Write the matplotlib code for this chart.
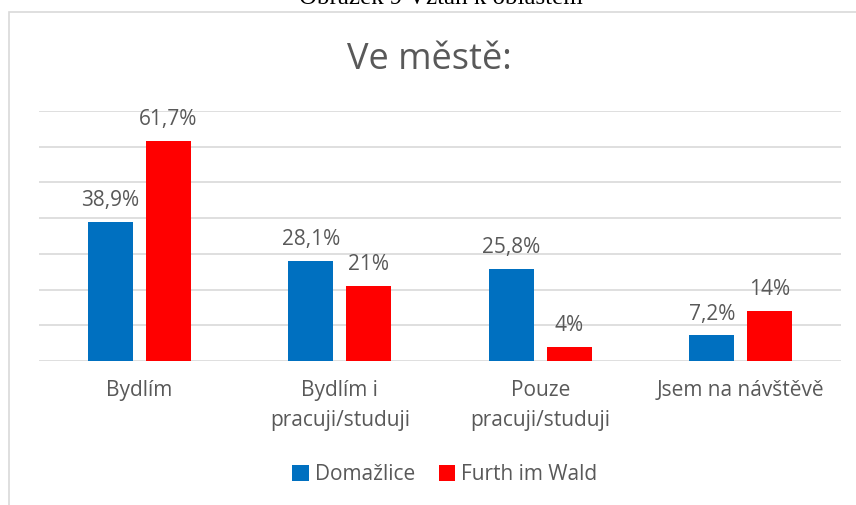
import matplotlib.pyplot as plt
import numpy as np
from matplotlib.patches import Rectangle

# data
categories = ["Bydlím", "Bydlím i\npracuji/studuji", "Pouze\npracuji/studuji", "Jsem na návštěvě"]
domazlice = [38.9, 28.1, 25.8, 7.2]
furth = [61.7, 21.0, 4.0, 14.0]
domazlice_labels = ["38,9%", "28,1%", "25,8%", "7,2%"]
furth_labels = ["61,7%", "21%", "4%", "14%"]

plt.rcParams['font.family'] = ['Open Sans', 'DejaVu Sans']
text_color = '#595959'

fig = plt.figure(figsize=(8.56, 5.05), dpi=100)
W, H = 856, 505

# chart frame (left and top edges visible)
fig.patches.append(Rectangle((9 / W, -0.1), 1.0, 1 - 12 / H + 0.1, transform=fig.transFigure,
                             fill=False, edgecolor='#d9d9d9', linewidth=1.2))

# caption from the document, cut off at the top
fig.text(441 / W, 1 - 4 / H, "Obrázek 9 Vztah k oblastem", ha='center', va='baseline',
         fontsize=18, family='Liberation Serif', color='black')

ax = fig.add_axes([39 / W, 1 - 361 / H, (841 - 39) / W, (361 - 111) / H])
x = np.arange(len(categories))
w = 0.224
off = 0.144
b1 = ax.bar(x - off, domazlice, w, color='#0070c0', label='Domažlice', zorder=3)
b2 = ax.bar(x + off, furth, w, color='#ff0000', label='Furth im Wald', zorder=3)

for bars, labs in ((b1, domazlice_labels), (b2, furth_labels)):
    for rect, lab in zip(bars, labs):
        ax.text(rect.get_x() + rect.get_width() / 2, rect.get_height() + 3.0, lab,
                ha='center', va='bottom', fontsize=15, color=text_color)

ax.set_xlim(-0.5, 3.5)
ax.set_ylim(0, 70)
ax.set_yticks(np.arange(0, 71, 10))
ax.yaxis.grid(True, color='#d9d9d9', linewidth=1.2, zorder=0)
ax.tick_params(axis='y', left=False, labelleft=False)
ax.tick_params(axis='x', bottom=False, pad=10)
ax.set_xticks(x)
ax.set_xticklabels(categories, fontsize=15, color=text_color, linespacing=1.6)
for s in ax.spines.values():
    s.set_visible(False)

fig.text(429 / W, 1 - 60 / H, "Ve městě:", ha='center', va='center', fontsize=26, color=text_color)

fig.legend(handles=[b1, b2], loc='center', bbox_to_anchor=(445 / W, 1 - 475 / H), ncol=2,
           frameon=False, fontsize=15, labelcolor=text_color, handlelength=0.8,
           handleheight=0.8, handletextpad=0.3, columnspacing=1.1)

fig.savefig('out.png', dpi=100)
